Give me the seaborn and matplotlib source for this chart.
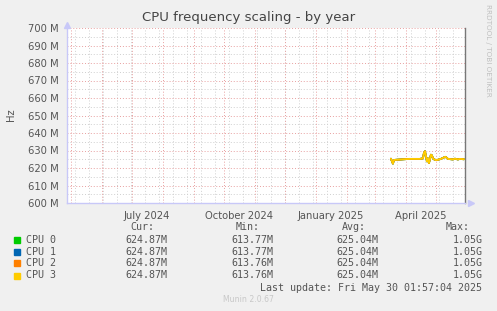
import numpy as np
import pandas as pd
import matplotlib
matplotlib.use("Agg")
import matplotlib.pyplot as plt
from matplotlib.patches import Rectangle
import seaborn as sns

# ---------------- data ----------------
dates = ["2025-03-17", "2025-03-19", "2025-03-20", "2025-03-25", "2025-03-30",
         "2025-04-05", "2025-04-15", "2025-04-18", "2025-04-19", "2025-04-20",
         "2025-04-21", "2025-04-22", "2025-04-23", "2025-04-24", "2025-04-25",
         "2025-04-26", "2025-04-27", "2025-04-28", "2025-04-29", "2025-05-01",
         "2025-05-03", "2025-05-06", "2025-05-09", "2025-05-10", "2025-05-11",
         "2025-05-13", "2025-05-18", "2025-05-20", "2025-05-23", "2025-05-25",
         "2025-05-29"]
freq_mhz = [625.3, 622.5, 624.6, 624.8, 625.0,
            625.2, 625.2, 625.5, 628.5, 629.6,
            627.0, 623.8, 625.5, 622.8, 625.0,
            627.6, 627.2, 625.5, 625.0, 624.5,
            624.7, 625.2, 626.0, 626.4, 626.2,
            625.2, 624.9, 625.3, 624.9, 625.2,
            625.0]
cpus = ["CPU 0", "CPU 1", "CPU 2", "CPU 3"]
colors = ["#00cc00", "#0066b3", "#ff8000", "#ffcc00"]
cur = ["624.87M", "624.87M", "624.87M", "624.87M"]
mins = ["613.77M", "613.77M", "613.76M", "613.76M"]
avgs = ["625.04M", "625.04M", "625.04M", "625.04M"]
maxs = ["1.05G", "1.05G", "1.05G", "1.05G"]
y_ticks = [600, 610, 620, 630, 640, 650, 660, 670, 680, 690, 700]
x_labels = ["July 2024", "October 2024", "January 2025", "April 2025"]
x_label_dates = ["2024-07-16", "2024-10-16", "2025-01-16", "2025-04-16"]

rows = []
for c in cpus:
    for d, v in zip(dates, freq_mhz):
        rows.append({"date": pd.Timestamp(d), "MHz": v, "cpu": c})
df = pd.DataFrame(rows)

# ---------------- figure ----------------
W, H = 497, 311
sns.set_style("white")
plt.rcParams["font.family"] = ["DejaVu Sans"]
fig = plt.figure(figsize=(W / 100, H / 100), dpi=100, facecolor="#f0f0f0")

def fx(x):
    return x / W

def fy(y):
    return 1 - y / H

L, R, T, B = 67, 465, 28, 203
ax = fig.add_axes([fx(L), fy(B), (R - L) / W, (B - T) / H])
ax.set_facecolor("white")

x0 = pd.Timestamp("2024-04-27")
x1 = pd.Timestamp("2025-05-30 02:00")
ax.set_xlim(x0, x1)
ax.set_ylim(600, 700)

# grids
major_x = pd.date_range("2024-05-01", "2025-05-01", freq="MS")
minor_x = pd.date_range("2024-05-05", "2025-05-30", freq="14D")
for d in minor_x:
    ax.axvline(d, color="#cfcfcf", lw=0.7, ls=(0, (1, 2)), zorder=1)
for v in np.arange(605, 700, 10):
    ax.axhline(v, color="#cfcfcf", lw=0.7, ls=(0, (1, 2)), zorder=1)
for d in major_x:
    ax.axvline(d, color="#e8a0a0", lw=0.7, ls=(0, (1, 2)), zorder=1.5)
for v in y_ticks[1:]:
    ax.axhline(v, color="#e8a0a0", lw=0.7, ls=(0, (1, 2)), zorder=1.5)

sns.lineplot(data=df, x="date", y="MHz", hue="cpu", hue_order=cpus,
             palette=colors, linewidth=1.3, legend=False, ax=ax, zorder=3,
             estimator=None)

ax.set_xticks(major_x)
ax.set_xticklabels([])
ax.set_xticks(minor_x, minor=True)
ax.tick_params(axis="x", which="major", length=2.5, color="#e8a0a0", width=0.8, direction="out")
ax.tick_params(axis="x", which="minor", length=0)
ax.set_yticks(y_ticks)
ax.set_yticklabels([f"{v} M" for v in y_ticks], fontsize=7.2, color="#555555")
ax.tick_params(axis="y", length=2, color="#e8a0a0", width=0.8, pad=4)
ax.set_xlabel("")
ax.set_ylabel("")

for lbl, d in zip(x_labels, x_label_dates):
    ax.text(pd.Timestamp(d), -0.045, lbl, transform=ax.get_xaxis_transform(),
            ha="center", va="top", fontsize=7.2, color="#555555")

ax.spines["top"].set_visible(False)
ax.spines["left"].set_color("#c8c8f8")
ax.spines["bottom"].set_color("#c8c8f8")
ax.spines["left"].set_linewidth(1)
ax.spines["bottom"].set_linewidth(1)
ax.spines["right"].set_color("#777777")
ax.spines["right"].set_linewidth(1)

# axis arrows
ax.plot([0], [1.02], marker="^", color="#c8c8f8", markersize=4,
        transform=ax.transAxes, clip_on=False)
ax.plot([1.015], [0], marker=">", color="#c8c8f8", markersize=4,
        transform=ax.transAxes, clip_on=False)

# texts
fig.text(fx(248.5), fy(18), "CPU frequency scaling - by year", ha="center", va="center",
         fontsize=9.5, color="#444444")
fig.text(fx(11), fy(115), "Hz", rotation=90, ha="center", va="center",
         fontsize=7.2, color="#555555")
fig.text(fx(488), fy(4), "RRDTOOL / TOBI OETIKER", rotation=270, ha="center", va="top",
         fontsize=5.2, color="#c0c0c0")

mono = "DejaVu Sans Mono"
fs = 7.2
tc = "#555555"
hy = 227.5
for x, t in [(154, "Cur:"), (260, "Min:"), (366, "Avg:"), (470, "Max:")]:
    fig.text(fx(x), fy(hy), t, ha="right", va="center", family=mono, fontsize=fs, color=tc)
ys = [240, 251.7, 263.3, 275.5]
for i, c in enumerate(cpus):
    y = ys[i]
    fig.patches.append(Rectangle((fx(14), fy(y + 3)), 6 / W, 6 / H,
                                 transform=fig.transFigure, color=colors[i]))
    fig.text(fx(26.5), fy(y), c, ha="left", va="center", family=mono, fontsize=fs, color=tc)
    fig.text(fx(167), fy(y), cur[i], ha="right", va="center", family=mono, fontsize=fs, color=tc)
    fig.text(fx(273), fy(y), mins[i], ha="right", va="center", family=mono, fontsize=fs, color=tc)
    fig.text(fx(378.5), fy(y), avgs[i], ha="right", va="center", family=mono, fontsize=fs, color=tc)
    fig.text(fx(482.5), fy(y), maxs[i], ha="right", va="center", family=mono, fontsize=fs, color=tc)
fig.text(fx(482.5), fy(287.7), "Last update: Fri May 30 01:57:04 2025", ha="right", va="center",
         family=mono, fontsize=fs, color=tc)
fig.text(fx(248.5), fy(300), "Munin 2.0.67", ha="center", va="center",
         fontsize=5.6, color="#c8c8c8")

fig.savefig("out.png", dpi=100, facecolor=fig.get_facecolor())
